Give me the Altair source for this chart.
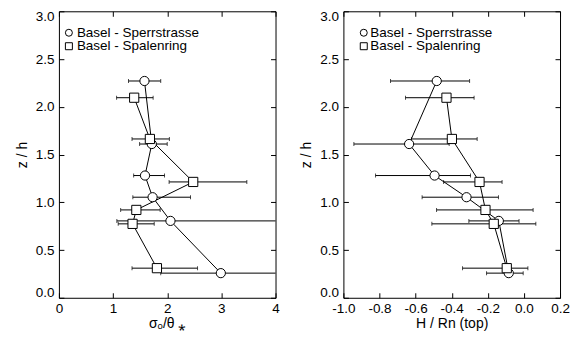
import altair as alt
import pandas as pd

FONT = "Liberation Sans"

series_names = ["Basel - Sperrstrasse", "Basel - Spalenring"]
series_shapes = ["circle", "square"]

# heights z/h
z_sperr = [2.27, 1.61, 1.28, 1.053, 0.805, 0.258]
z_spalen = [2.095, 1.663, 1.213, 0.92, 0.774, 0.31]

# left panel: sigma_theta / theta_*
sig_sperr = [1.58, 1.715, 1.59, 1.73, 2.06, 2.99]
sig_sperr_lo = [1.285, 1.49, 1.38, 1.365, 1.07, 1.88]
sig_sperr_hi = [1.88, 2.0, 1.95, 2.43, 4.4, 4.1]
sig_spalen = [1.39, 1.68, 2.48, 1.43, 1.36, 1.81]
sig_spalen_lo = [1.065, 1.35, 2.035, 1.14, 1.095, 1.35]
sig_spalen_hi = [1.74, 2.04, 3.47, 1.87, 1.76, 2.56]

# right panel: H / Rn (top)
h_sperr = [-0.483, -0.636, -0.495, -0.318, -0.139, -0.084]
h_sperr_lo = [-0.739, -0.942, -0.822, -0.564, -0.305, -0.207]
h_sperr_hi = [-0.301, -0.414, -0.296, -0.141, -0.027, -0.004]
h_spalen = [-0.429, -0.399, -0.246, -0.213, -0.167, -0.095]
h_spalen_lo = [-0.656, -0.623, -0.445, -0.484, -0.510, -0.34]
h_spalen_hi = [-0.276, -0.259, -0.121, 0.051, 0.066, 0.022]

left_ticks = [0, 1, 2, 3, 4]
right_ticks = [-1.0, -0.8, -0.6, -0.4, -0.2, 0.0, 0.2]
y_ticks = [0.0, 0.5, 1.0, 1.5, 2.0, 2.5, 3.0]


def make_df(a, a_lo, a_hi, b, b_lo, b_hi):
    rows = []
    for i in range(len(z_sperr)):
        rows.append(dict(series=series_names[0], i=i, z=z_sperr[i], v=a[i], lo=a_lo[i], hi=a_hi[i]))
    for i in range(len(z_spalen)):
        rows.append(dict(series=series_names[1], i=i, z=z_spalen[i], v=b[i], lo=b_lo[i], hi=b_hi[i]))
    return pd.DataFrame(rows)


def legend_layers(sym_x, text_x):
    layers = []
    for k, (name, shp) in enumerate(zip(series_names, series_shapes)):
        d = pd.DataFrame({"name": [name]})
        yy = 21.5 + 13.5 * k
        layers.append(alt.Chart(d).mark_point(shape=shp, size=49, filled=False, fill="white",
                                              fillOpacity=1, stroke="black", strokeWidth=1,
                                              opacity=1).encode(
            x=alt.value(sym_x), y=alt.value(yy)))
        layers.append(alt.Chart(d).mark_text(align="left", baseline="middle", font=FONT,
                                             fontSize=13.5, color="black").encode(
            text="name:N", x=alt.value(text_x), y=alt.value(yy)))
    return layers


def panel(df, domain, xticks, xtitle, xfmt_expr, sym_x, text_x):
    xs = alt.Scale(domain=domain, nice=False, zero=False)
    ys = alt.Scale(domain=[0, 3], nice=False, zero=False)
    base = alt.Chart(df)
    rules = base.mark_rule(color="black", strokeWidth=1, clip=True).encode(
        x=alt.X("lo:Q", scale=xs, axis=None),
        x2="hi:Q",
        y=alt.Y("z:Q", scale=ys, axis=None),
    )
    cap_lo = base.mark_tick(orient="vertical", color="black", size=4, thickness=1, clip=True).encode(
        x=alt.X("lo:Q", scale=xs, axis=None),
        y=alt.Y("z:Q", scale=ys, axis=None),
    )
    cap_hi = base.mark_tick(orient="vertical", color="black", size=4, thickness=1, clip=True).encode(
        x=alt.X("hi:Q", scale=xs, axis=None),
        y=alt.Y("z:Q", scale=ys, axis=None),
    )
    line = base.mark_line(color="black", strokeWidth=1).encode(
        x=alt.X("v:Q", scale=xs, axis=None),
        y=alt.Y("z:Q", scale=ys, axis=None),
        detail="series:N",
        order="i:Q",
    )
    pts = base.mark_point(filled=False, fill="white", fillOpacity=1, color="black", stroke="black",
                          strokeWidth=1, size=85, opacity=1).encode(
        x=alt.X("v:Q", scale=xs, title=xtitle,
                axis=alt.Axis(values=xticks, orient="bottom", offset=-5, tickSize=5, labelPadding=3.5,
                              titlePadding=1.6, labelExpr=xfmt_expr, labelFlush=False, domain=False)),
        y=alt.Y("z:Q", scale=ys, title="z / h",
                axis=alt.Axis(values=y_ticks, orient="left", offset=-5, tickSize=5, labelPadding=5,
                              titlePadding=6, format=".1f", labelFlush=True, labelFlushOffset=2,
                              domain=False)),
        shape=alt.Shape("series:N",
                        scale=alt.Scale(domain=series_names, range=series_shapes),
                        legend=None),
    )
    mirror = base.mark_point(opacity=0).encode(
        x=alt.X("v:Q", scale=xs,
                axis=alt.Axis(values=xticks, orient="top", offset=-5, tickSize=5, labels=False,
                              title=None, domain=False)),
        y=alt.Y("z:Q", scale=ys,
                axis=alt.Axis(values=y_ticks, orient="right", offset=-5, tickSize=5, labels=False,
                              title=None, domain=False)),
    )
    return alt.layer(rules, cap_lo, cap_hi, line, pts, mirror, *legend_layers(sym_x, text_x)).resolve_axis(
        x="independent", y="independent"
    ).properties(width=217, height=287)


df_left = make_df(sig_sperr, sig_sperr_lo, sig_sperr_hi, sig_spalen, sig_spalen_lo, sig_spalen_hi)
df_right = make_df(h_sperr, h_sperr_lo, h_sperr_hi, h_spalen, h_spalen_lo, h_spalen_hi)

left = panel(df_left, [0, 4], left_ticks, "σₒ/θ ⁎", "format(datum.value, 'd')", 10, 18)
right = panel(df_right, [-1.0, 0.2], right_ticks, "H / Rn (top)",
              "replace(format(datum.value, '.1f'), '\u2212', '-')", 20.4, 27)

chart = alt.hconcat(left, right, spacing=18).resolve_scale(shape="independent").properties(
    padding={"left": 6, "top": 0, "right": 0, "bottom": 0}
).configure_view(
    stroke="black", strokeWidth=1
).configure_axis(
    labelFont=FONT, titleFont=FONT, labelFontSize=13.5, titleFontSize=14,
    labelColor="black", titleColor="black", tickColor="black", tickWidth=1,
    titleFontWeight="normal", grid=False,
)

chart.save("out.html", embed_options={"renderer": "svg", "actions": False})
